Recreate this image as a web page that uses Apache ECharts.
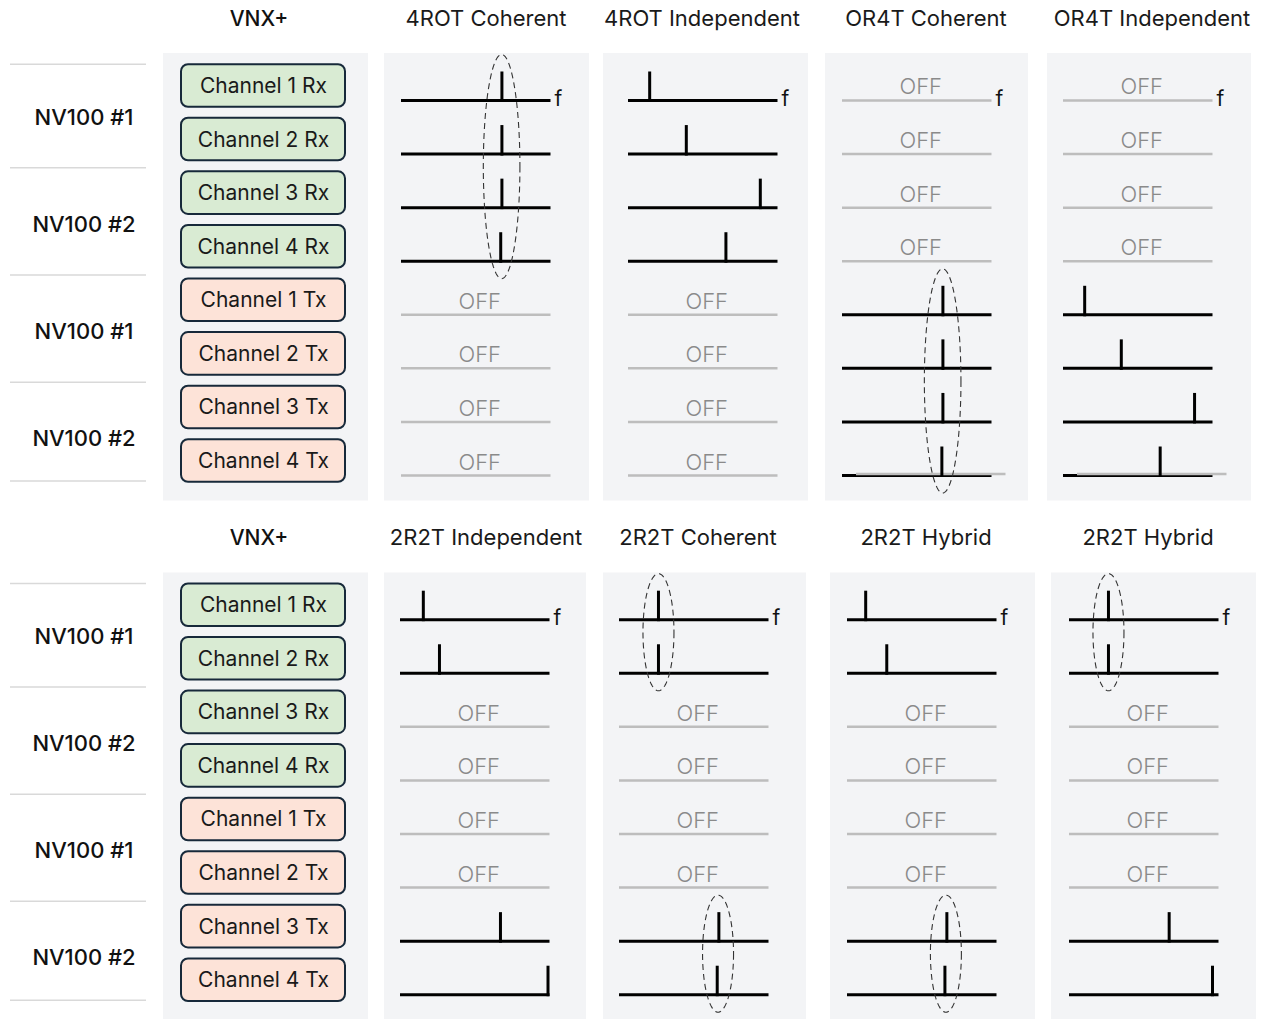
<!DOCTYPE html>
<html><head><meta charset="utf-8">
<script src="https://cdn.jsdelivr.net/npm/echarts@6/dist/echarts.min.js"></script>
<style>html,body{margin:0;padding:0;background:#fff}#c{width:1262px;height:1019px}</style>
</head><body><div id="c"></div>
<script>
// ---------------- data ----------------
const channels = ['Channel 1 Rx','Channel 2 Rx','Channel 3 Rx','Channel 4 Rx','Channel 1 Tx','Channel 2 Tx','Channel 3 Tx','Channel 4 Tx'];
const deviceLabels = ['NV100 #1','NV100 #2','NV100 #1','NV100 #2'];
const sourceTitle = 'VNX+';
const topModes = ['4ROT Coherent','4ROT Independent','OR4T Coherent','OR4T Independent'];
const bottomModes = ['2R2T Independent','2R2T Coherent','2R2T Hybrid','2R2T Hybrid'];
// tone position along the frequency line (0..1); null = channel OFF
const rot4Coherent    = [0.675,0.675,0.675,0.667,null,null,null,null];
const rot4Independent = [0.145,0.39,0.885,0.655,null,null,null,null];
const or4tCoherent    = [null,null,null,null,0.675,0.675,0.675,0.668];
const or4tIndependent = [null,null,null,null,0.145,0.39,0.88,0.65];
const r2t2Independent = [0.156,0.264,null,null,null,null,0.672,0.99];
const r2t2Coherent    = [0.264,0.264,null,null,null,null,0.668,0.657];
const r2t2HybridA     = [0.125,0.266,null,null,null,null,0.668,0.655];
const r2t2HybridB     = [0.264,0.264,null,null,null,null,0.67,0.96];
// coherent groups (dashed ellipses): [modeColumn, firstRow, lastRow]
const topGroups = [[0,0,3],[2,4,7]];
const bottomGroups = [[1,0,1],[1,6,7],[2,6,7],[3,0,1]];
// leftover grey OFF trace drawn over a channel: [modeColumn, row]
const topStaleOffTraces = [[2,7],[3,7]];
const bottomStaleOffTraces = [];

// ---------------- layout ----------------
const FONT = 'Inter, "Noto Sans", sans-serif';
const panels = [
  {modes: topModes, spikes: [rot4Coherent, rot4Independent, or4tCoherent, or4tIndependent], groups: topGroups, stale: topStaleOffTraces,
   gridTop: 58.7, gridH: 428.6, bgY: 53, bgH: 447.5, titleY: 18,
   lineX: [401,628,842,1063], bgX: [[384,589],[603,808],[825,1028],[1047,1251]], titleX: [486,702,926,1152]},
  {modes: bottomModes, spikes: [r2t2Independent, r2t2Coherent, r2t2HybridA, r2t2HybridB], groups: bottomGroups, stale: bottomStaleOffTraces,
   gridTop: 577.9, gridH: 428.6, bgY: 572.5, bgH: 446.5, titleY: 537,
   lineX: [400,619,847,1069], bgX: [[384,586],[603,806],[830,1035],[1051,1256]], titleX: [486,698,926,1148]}
];
const BASE_OFF = 15, SPIKE_H = 29, LINE_W = 149.5;

function txt(text, x, y, font, fill, align) {
  return {type:'text', style:{text, x, y, font, fill, align: align||'center', verticalAlign:'middle', textAlign: align||'center', textVerticalAlign:'middle'}};
}

function boxRender(params, api) {
  const cs = params.coordSys;
  const i = api.value(1);
  const yc = api.coord([0, i])[1];
  const tx = i < 4;
  return {type:'group', children:[
    {type:'rect', shape:{x: cs.x + 171, y: yc - 21.3, width: 164, height: 42.6, r: 7},
     style:{fill: tx ? '#d9ebd3' : '#fde3d8', stroke:'#17293a', lineWidth: 2}},
    txt(channels[i], cs.x + 253.5, yc, '400 21px ' + FONT, '#1a1a1a')
  ]};
}

function deviceRender(params, api) {
  const cs = params.coordSys;
  const k = api.value(2);
  const ya = api.coord([0, 2*k])[1], yb = api.coord([0, 2*k+1])[1];
  const children = [txt(deviceLabels[k], cs.x + 74, (ya + yb) / 2 + 4.5, '500 22px ' + FONT, '#111')];
  const sepY = k === 0 ? ya - 21.3 : (api.coord([0, 2*k-1])[1] + ya) / 2 + 2;
  children.push({type:'line', shape:{x1: cs.x, y1: sepY, x2: cs.x + 136, y2: sepY}, style:{stroke:'#d9d9d9', lineWidth:1.5}});
  if (k === deviceLabels.length - 1) {
    children.push({type:'line', shape:{x1: cs.x, y1: yb + 20.5, x2: cs.x + 136, y2: yb + 20.5}, style:{stroke:'#d9d9d9', lineWidth:1.5}});
  }
  return {type:'group', children};
}

function makeModeRender(staleRows) {
  return function (params, api) {
    const pos = api.value(0), row = api.value(1), on = api.value(2);
    const yb = api.coord([0, row])[1] + BASE_OFF;
    const x0 = api.coord([0, row])[0], x1 = api.coord([1, row])[0];
    const children = [];
    children.push({type:'line', shape:{x1: x0, y1: yb, x2: x1, y2: yb},
      style:{stroke: on ? '#000' : '#bdbdbd', lineWidth: on ? 3 : 2.5}});
    if (staleRows.indexOf(row) >= 0) {
      children.push({type:'line', shape:{x1: x0 + 14, y1: yb - 1.5, x2: x1 + 14, y2: yb - 1.5}, style:{stroke:'#bdbdbd', lineWidth:2.5}});
    }
    if (on) {
      const xs = api.coord([pos, row])[0];
      children.push({type:'line', shape:{x1: xs, y1: yb + 1.5, x2: xs, y2: yb - SPIKE_H}, style:{stroke:'#000', lineWidth:3}});
    } else {
      children.push(txt('OFF', (x0 + x1) / 2 + 4, yb - 14, '300 22px ' + FONT, '#8a8a8a'));
    }
    if (row === 0) children.push(txt('f', x1 + 4, yb - 2, '400 21px ' + FONT, '#111', 'left'));
    return {type:'group', children};
  };
}

function groupRender(params, api) {
  const pos = api.value(0), r0 = api.value(1), r1 = api.value(2);
  const cx = api.coord([pos, r0])[0];
  const top = api.coord([0, r0])[1] + BASE_OFF - SPIKE_H - 17;
  const bot = api.coord([0, r1])[1] + BASE_OFF + 17.5;
  const cy = (top + bot) / 2, ry = (bot - top) / 2;
  const rx = (r1 - r0) > 1 ? 18.3 : 15.5;
  const pts = [];
  for (let t = 0; t <= 120; t++) {
    const a = t / 120 * Math.PI * 2;
    pts.push([cx + rx * Math.cos(a), cy + ry * Math.sin(a)]);
  }
  return {type:'polygon', shape:{points: pts}, style:{fill:'none', stroke:'#333', lineWidth:1.1, lineDash:[6,4]}};
}

const grid = [], xAxis = [], yAxis = [], series = [], graphic = [];
panels.forEach(p => {
  graphic.push({type:'rect', z:-10, silent:true, shape:{x:163, y:p.bgY, width:205, height:p.bgH}, style:{fill:'#f3f4f6'}});
  p.bgX.forEach(b => graphic.push({type:'rect', z:-10, silent:true, shape:{x:b[0], y:p.bgY, width:b[1]-b[0], height:p.bgH}, style:{fill:'#f3f4f6'}}));
  graphic.push({type:'text', silent:true, style:{text: sourceTitle, x:259, y:p.titleY, font:'500 21px ' + FONT, fill:'#111', align:'center', verticalAlign:'middle', textAlign:'center', textVerticalAlign:'middle'}});
  p.modes.forEach((m, j) => graphic.push({type:'text', silent:true, style:{text: m, x:p.titleX[j], y:p.titleY, font:'400 22px ' + FONT, fill:'#1a1a1a', align:'center', verticalAlign:'middle', textAlign:'center', textVerticalAlign:'middle'}}));

  const g0 = grid.length;
  grid.push({left:10, top:p.gridTop, width:358, height:p.gridH});
  xAxis.push({gridIndex:g0, type:'value', min:0, max:1, show:false});
  yAxis.push({gridIndex:g0, type:'category', data:channels, inverse:true, show:false});
  series.push({type:'custom', xAxisIndex:g0, yAxisIndex:g0, silent:true, renderItem: boxRender,
    data: channels.map((c, i) => [0, i])});
  series.push({type:'custom', xAxisIndex:g0, yAxisIndex:g0, silent:true, renderItem: deviceRender,
    data: deviceLabels.map((d, k) => [0, 2*k, k])});

  p.modes.forEach((m, j) => {
    const gi = grid.length;
    grid.push({left:p.lineX[j], top:p.gridTop, width:LINE_W, height:p.gridH});
    xAxis.push({gridIndex:gi, type:'value', min:0, max:1, show:false});
    yAxis.push({gridIndex:gi, type:'category', data:channels, inverse:true, show:false});
    const spikes = p.spikes[j];
    const staleRows = p.stale.filter(s => s[0] === j).map(s => s[1]);
    series.push({type:'custom', name:m, xAxisIndex:gi, yAxisIndex:gi, silent:true, renderItem: makeModeRender(staleRows),
      data: spikes.map((v, i) => [v == null ? 0.5 : v, i, v == null ? 0 : 1])});
    const grp = p.groups.filter(g => g[0] === j);
    if (grp.length) {
      series.push({type:'custom', xAxisIndex:gi, yAxisIndex:gi, silent:true, z:3, renderItem: groupRender,
        data: grp.map(g => {
          let s = 0; for (let r = g[1]; r <= g[2]; r++) s += spikes[r];
          return [s / (g[2] - g[1] + 1), g[1], g[2]];
        })});
    }
  });
});

const chart = echarts.init(document.getElementById('c'), null, {renderer:'svg', width:1262, height:1019});
chart.setOption({animation:false, backgroundColor:'#fff', grid, xAxis, yAxis, series, graphic});
</script>
</body></html>
